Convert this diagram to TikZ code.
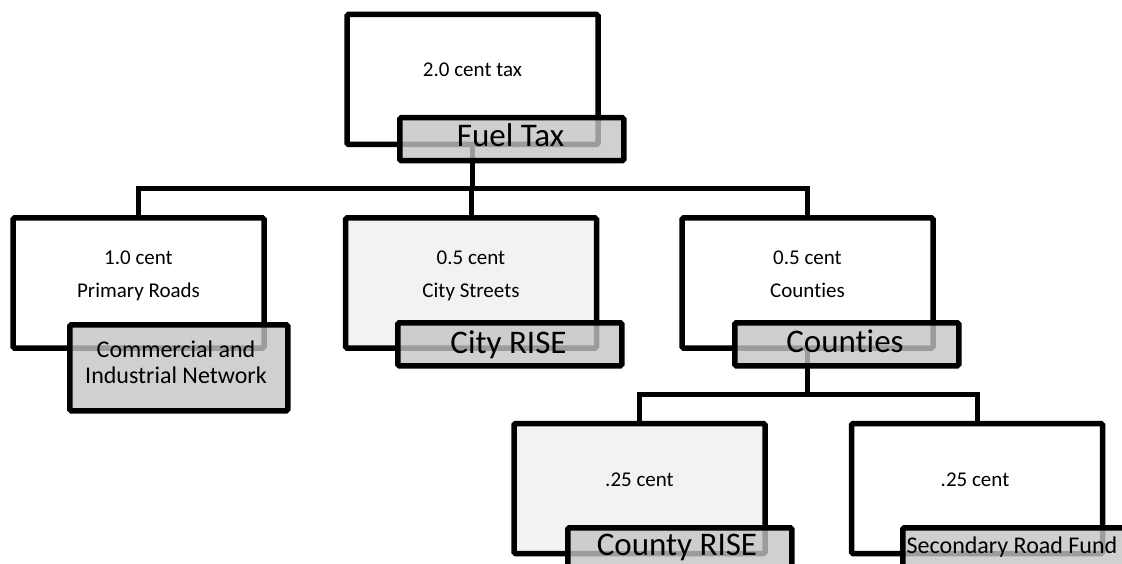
\documentclass[tikz,border=0pt]{standalone}
\usepackage{fontspec}
\setmainfont[Ligatures={NoCommon}]{Carlito}
\definecolor{boxgray}{HTML}{F2F2F2}
\definecolor{labgray}{HTML}{C4C4C4}
\begin{document}
\begin{tikzpicture}[x=1pt,y=-1pt,
  box/.style={draw, line width=5.5pt, rounded corners=1.5pt, minimum width=251pt, minimum height=130pt, inner sep=0pt, fill=white},
  shaded/.style={fill=boxgray},
  lab/.style={draw, line width=5.5pt, rounded corners=1.5pt, fill=labgray, fill opacity=0.8, minimum width=224pt, minimum height=43pt, inner sep=0pt, anchor=north west},
  small/.style={font=\fontsize{21}{25}\selectfont, anchor=base, inner sep=0pt},
  big/.style={font=\fontsize{33}{40}\selectfont, anchor=base, inner sep=0pt},
  mid/.style={font=\fontsize{24}{27}\selectfont, anchor=base, inner sep=0pt},
  conn/.style={line width=5pt}]
\useasboundingbox (0,0) rectangle (1122,564);
\clip (0,0) rectangle (1122,564);

% outer boxes
\node[box] (T)  at (472.5,79.5) {};
\node[box] (B1) at (138.5,283) {};
\node[box,shaded] (B2) at (471,283) {};
\node[box] (B3) at (807.5,283) {};
\node[box,shaded] (B4) at (639.5,488.5) {};
\node[box] (B5) at (977,488.5) {};

% buses
\coordinate (bus1) at (0,189);
\coordinate (bus2) at (0,394);

% connectors
\draw[conn] (T.south) -- (T.south |- bus1);
\draw[conn] (B1.north) |- (B3.north |- bus1) -- (B3.north);
\draw[conn] (B2.north) -- (B2.north |- bus1);
\draw[conn] (B3.south) -- (B3.south |- bus2);
\draw[conn] (B4.north) |- (B5.north |- bus2) -- (B5.north);

% labels
\node[lab] (LT) at (397,115) {};
\node[lab, minimum width=218pt, minimum height=86pt] (L1) at (67,322) {};
\node[lab] (L2) at (395,320) {};
\node[lab] (L3) at (732,320) {};
\node[lab] (L4) at (565,525) {};
\node[lab] (L5) at (900,525) {};

% box texts
\node[small] (tT)  at (472.5,77) {2.0 cent tax};
\node[small] (t1a) at (138.5,265) {1.0 cent};
\node[small] (t1b) at (138.5,298) {Primary Roads};
\node[small] (t2a) at (471,265) {0.5 cent};
\node[small] (t2b) at (471,298) {City Streets};
\node[small] (t3a) at (807.5,265) {0.5 cent};
\node[small] (t3b) at (807.5,298) {Counties};
\node[small] (t4)  at (639.5,486) {.25 cent};
\node[small] (t5)  at (975,486) {.25 cent};

% label texts
\node[big] (lT) at (510.5,147) {Fuel Tax};
\node[mid] (l1a) at (176,357) {Commercial and};
\node[mid] (l1b) at (176,383) {Industrial Network};
\node[big] (l2) at (508.5,353) {City RISE};
\node[big] (l3) at (845,352) {Counties};
\node[big] (l4) at (677,555) {County RISE};
\node[mid] (l5) at (1012,553) {Secondary Road Fund};
\end{tikzpicture}
\end{document}
